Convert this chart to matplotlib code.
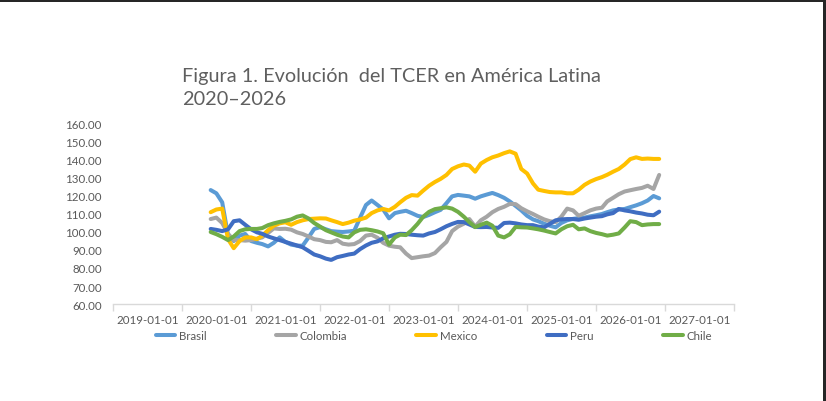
import matplotlib
matplotlib.use("Agg")
import matplotlib.pyplot as plt
import pandas as pd
from datetime import datetime
from matplotlib.patches import Rectangle

# monthly series, Jun 2020 .. Dec 2026
months = pd.date_range("2020-06-01", "2026-12-01", freq="MS")

brasil = [
    123.3, 121.5, 116.5, 98.0, 95.0, 98.0, 98.9, 95.0, 94.0, 93.3,
    92.0, 94.0, 97.0, 94.5, 93.0, 92.4, 92.4, 97.0, 101.7, 102.7,
    101.5, 100.5, 100.2, 100.0, 100.3, 100.7, 108.0, 115.0, 117.5, 115.0,
    112.5, 107.6, 110.5, 111.2, 111.8, 110.5, 109.0, 108.3, 109.5, 111.0,
    112.3, 116.0, 119.8, 120.6, 120.2, 119.8, 118.5, 119.8, 120.8, 121.7,
    120.5, 119.0, 117.0, 114.5, 112.0, 109.0, 107.0, 106.0, 104.6, 103.5,
    102.6, 105.0, 106.5, 107.3, 107.7, 108.0, 108.7, 109.3, 110.0, 111.0,
    112.0, 112.5, 112.8, 113.8, 114.8, 116.0, 117.5, 120.0, 118.7,
]
colombia = [
    107.2, 108.0, 105.0, 99.0, 95.5, 95.5, 95.2, 95.5, 96.3, 97.0,
    99.5, 102.0, 101.7, 101.8, 101.3, 99.8, 98.9, 97.5, 96.0, 95.5,
    94.5, 94.3, 95.5, 93.5, 93.0, 93.3, 95.0, 98.0, 98.5, 96.8,
    94.0, 92.4, 91.8, 91.5, 88.0, 85.5, 86.0, 86.5, 86.9, 88.3,
    91.5, 94.5, 100.5, 103.0, 104.6, 107.2, 103.0, 106.5, 108.5, 111.0,
    112.8, 114.0, 115.6, 115.5, 113.2, 111.5, 110.0, 108.5, 107.0, 106.0,
    105.5, 108.5, 113.0, 112.0, 109.0, 110.5, 112.0, 113.0, 113.5, 117.0,
    119.0, 121.0, 122.5, 123.2, 123.9, 124.5, 125.7, 123.9, 131.7,
]
mexico = [
    111.0, 112.5, 113.0, 96.0, 91.0, 95.0, 97.0, 97.0, 96.0, 98.0,
    101.0, 103.5, 104.8, 105.4, 104.0, 105.5, 106.5, 107.2, 107.4, 107.6,
    107.5, 106.5, 105.5, 104.4, 105.2, 106.3, 107.0, 108.0, 110.5, 112.0,
    112.8, 112.0, 114.0, 116.5, 119.0, 120.5, 120.2, 123.0, 125.7, 127.8,
    129.5, 131.7, 135.0, 136.5, 137.5, 136.9, 133.5, 138.0, 140.0, 141.5,
    142.5, 143.8, 144.8, 143.5, 135.0, 132.5, 127.0, 123.5, 122.8, 122.2,
    122.0, 122.0, 121.5, 121.5, 123.5, 126.2, 128.0, 129.4, 130.5, 131.8,
    133.5, 135.0, 137.5, 140.5, 141.5, 140.6, 140.8, 140.6, 140.6,
]
peru = [
    101.7, 101.2, 100.5, 101.5, 106.0, 106.5, 104.0, 101.5, 99.8, 99.0,
    97.5, 96.5, 95.5, 94.5, 93.5, 92.5, 91.5, 89.5, 87.5, 86.5,
    85.2, 84.5, 86.0, 86.7, 87.5, 88.0, 90.5, 92.5, 94.0, 94.8,
    96.5, 97.5, 98.5, 99.0, 98.9, 98.5, 98.2, 98.0, 99.2, 100.0,
    101.5, 103.2, 104.5, 105.6, 105.5, 104.2, 102.8, 102.7, 102.8, 102.5,
    102.3, 105.0, 105.2, 104.8, 104.2, 103.8, 103.8, 103.0, 102.6, 104.5,
    106.5, 107.0, 107.2, 107.2, 106.8, 107.5, 108.0, 108.5, 108.8, 109.8,
    110.5, 112.8, 112.0, 111.5, 110.8, 110.3, 109.6, 109.3, 111.3,
]
chile = [
    100.0, 98.8, 97.3, 95.5, 97.5, 100.5, 101.5, 101.7, 101.7, 102.2,
    103.8, 104.8, 105.6, 106.2, 107.0, 108.5, 109.2, 107.5, 105.0, 103.0,
    101.0, 99.8, 98.5, 97.5, 97.0, 99.8, 101.2, 101.5, 101.0, 100.3,
    99.3, 93.0, 97.0, 98.5, 98.3, 101.0, 104.5, 108.5, 111.2, 112.7,
    113.2, 113.7, 113.0, 111.2, 108.5, 105.5, 102.7, 104.0, 105.2, 103.5,
    98.0, 97.0, 98.7, 102.8, 102.6, 102.5, 102.0, 101.5, 100.8, 100.0,
    99.2, 101.5, 103.2, 104.0, 101.5, 102.0, 100.5, 99.5, 98.8, 98.0,
    98.5, 99.2, 102.5, 106.0, 105.5, 103.8, 104.2, 104.4, 104.4,
]

series_names = ["Brasil", "Colombia", "Mexico", "Peru", "Chile"]
series_vals = [brasil, colombia, mexico, peru, chile]
series_colors = ["#5B9BD5", "#A5A5A5", "#FFC000", "#3F6DC2", "#70AD47"]

year_ticks = list(range(2019, 2028))  # labelled years
TEXT = "#595959"
AXIS = "#D9D9D9"
FONT = ["Lato", "DejaVu Sans"]

plt.rcParams["font.family"] = FONT

fig = plt.figure(figsize=(8.26, 4.02), dpi=100)
fig.patch.set_facecolor("white")
ax = fig.add_axes([113 / 826, 1 - 305 / 402, 621 / 826, 180 / 402])

for name, vals, col in zip(series_names, series_vals, series_colors):
    ax.plot(months, vals, color=col, lw=2.9, label=name, solid_capstyle="round")

ax.set_xlim(datetime(2019, 1, 1), datetime(2028, 1, 1))
ax.set_ylim(60, 160)
ax.set_yticks(range(60, 161, 10))
ax.yaxis.set_major_formatter(matplotlib.ticker.FormatStrFormatter("%.2f"))

# ticks at year boundaries, labels centred in each year slot
ax.set_xticks([datetime(y, 1, 1) for y in range(2019, 2029)])
ax.set_xticklabels([])
ax.set_xticks([datetime(y, 7, 2) for y in year_ticks], minor=True)
ax.set_xticklabels([f"{y}-01-01" for y in year_ticks], minor=True)
ax.tick_params(axis="x", which="major", length=5, color=AXIS, width=1)
ax.tick_params(axis="x", which="minor", length=0, pad=7, labelsize=8.3,
               labelcolor=TEXT)
ax.tick_params(axis="y", length=0, pad=8, labelsize=8.3, labelcolor=TEXT)

for s in ("top", "right", "left"):
    ax.spines[s].set_visible(False)
ax.spines["bottom"].set_color(AXIS)
ax.spines["bottom"].set_linewidth(1)

fig.text(182 / 826, 1 - 68 / 402,
         "Figura 1. Evolución  del TCER en América Latina\n2020\u20132026",
         ha="left", va="top", fontsize=14.3, color="#5f5f5f",
         linespacing=1.45)

fig.legend(loc="center", bbox_to_anchor=(434 / 826, 1 - 337 / 402), ncol=5,
           frameon=False, fontsize=8.3, handlelength=1.7, handletextpad=0.35,
           columnspacing=6.0, labelcolor=TEXT)

# dark page frame visible at top and right of the screenshot
fig.add_artist(Rectangle((0, 1 - 2.5 / 402), 1, 2.5 / 402,
                         transform=fig.transFigure, color="#262626", lw=0))
fig.add_artist(Rectangle((1 - 3 / 826, 0), 3 / 826, 1,
                         transform=fig.transFigure, color="#262626", lw=0))

fig.savefig("out.png", dpi=100, facecolor="white")
